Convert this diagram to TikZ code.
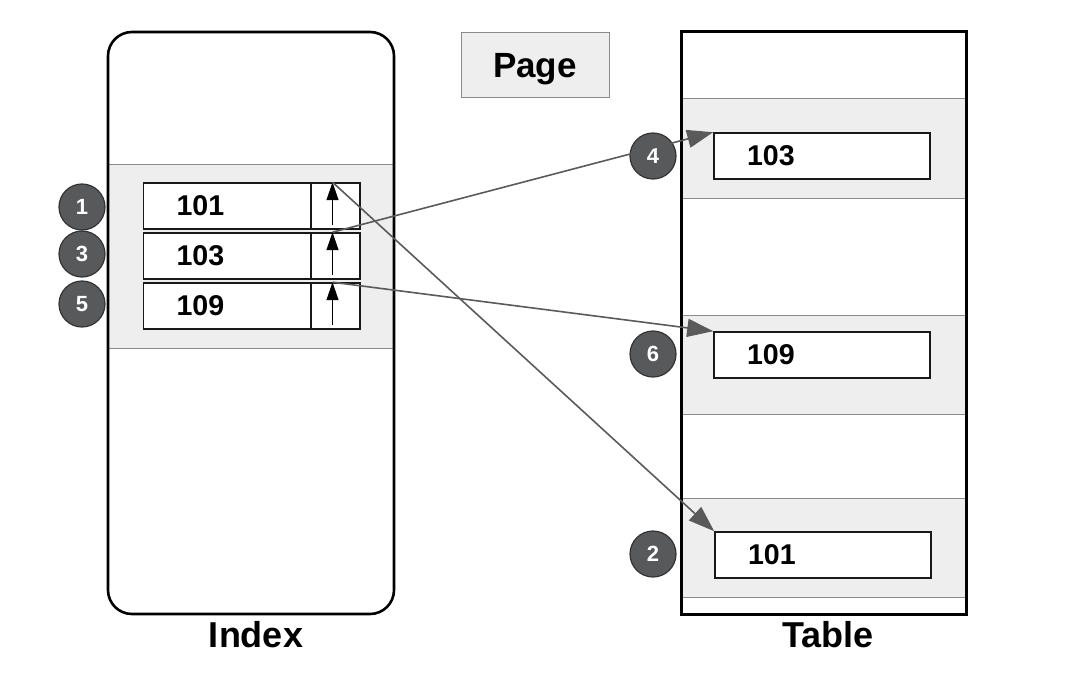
\documentclass[tikz,border=0pt]{standalone}
\usepackage{fontspec}
\setmainfont{Liberation Sans}
\usepackage{tikz}
\usetikzlibrary{arrows.meta}
\definecolor{band}{HTML}{EDEEED}
\definecolor{bandline}{HTML}{8A8B8A}
\definecolor{disc}{HTML}{58595B}
\definecolor{linkgray}{HTML}{5A5A5A}
\newcommand{\cellfont}{\fontsize{14.3}{16}\selectfont\bfseries}
\tikzset{
  bandbox/.style={draw=bandline, line width=0.5pt, fill=band, minimum width=#1, inner sep=0pt},
  keycell/.style={draw=black!90, line width=0.8pt, fill=white, minimum height=23pt,
    inner xsep=16.5pt, inner ysep=0pt, text width=#1, align=left, font=\cellfont},
  ptrcell/.style={draw=black!90, line width=0.8pt, fill=white, minimum width=24.5pt,
    minimum height=23pt, inner sep=0pt},
  stepdisc/.style={circle, draw=black!80, line width=0.6pt, fill=disc, minimum size=23pt,
    inner sep=0pt, text=white, font=\fontsize{11}{12}\selectfont\bfseries},
  ptr/.style={-{Triangle[length=9pt,width=6pt]}, black, line width=0.6pt, shorten <=2.5pt},
  link/.style={-{Triangle[length=13pt,width=9pt]}, linkgray, line width=0.8pt},
  caption/.style={font=\fontsize{18}{20}\selectfont\bfseries}
}

\begin{document}
\begin{tikzpicture}[x=0.5pt,y=-0.5pt]
  \useasboundingbox (0,0) rectangle (1079,679);

  \node [bandbox=143pt, minimum height=91.5pt] (iband) at (251,256.5) {};
  \node [draw, line width=1.3pt, rounded corners=12pt, minimum width=143pt,
    minimum height=291pt] (index) at (251,323) {};

  \node [keycell=51pt] (k101) at (227.5,206) {101};
  \node [keycell=51pt] (k103) at (227.5,256) {103};
  \node [keycell=51pt] (k109) at (227.5,306) {109};
  \node [ptrcell] (p101) at (335.5,206) {};
  \node [ptrcell] (p103) at (335.5,256) {};
  \node [ptrcell] (p109) at (335.5,306) {};
  \draw [ptr] ([xshift=-1.5pt]p101.south) to ([xshift=-1.5pt]p101.north);
  \draw [ptr] ([xshift=-1.5pt]p103.south) to ([xshift=-1.5pt]p103.north);
  \draw [ptr] ([xshift=-1.5pt]p109.south) to ([xshift=-1.5pt]p109.north);

  \node [stepdisc] (s1) at (82,207) {1};
  \node [stepdisc] (s3) at (82,254) {3};
  \node [stepdisc] (s5) at (82,304) {5};

  \node [draw=bandline, line width=0.5pt, fill=band, minimum width=74pt, minimum height=32.5pt,
    text depth=0pt, font=\fontsize{17.5}{20}\selectfont\bfseries] (page) at (535,65.5) {Page};

  \node [bandbox=142.5pt, minimum height=49.5pt] (tband1) at (823.5,148.5) {};
  \node [bandbox=142.5pt, minimum height=49.5pt] (tband2) at (823.5,364.5) {};
  \node [bandbox=142.5pt, minimum height=49.5pt] (tband3) at (823.5,547.5) {};
  \node [draw, line width=1.5pt, minimum width=142.5pt, minimum height=291pt] (table) at (823.5,323) {};

  \node [keycell=75pt] (t103) at (822,156) {103};
  \node [keycell=75pt] (t109) at (822,355) {109};
  \node [keycell=75pt] (t101) at (823,555) {101};

  \node [stepdisc] (s4) at (653,156) {4};
  \node [stepdisc] (s6) at (653,354) {6};
  \node [stepdisc] (s2) at (653,554) {2};

  \draw [link] ([xshift=-1.5pt]p101.north) to (t101.north west);
  \draw [link] ([xshift=-1.5pt]p103.north) to (t103.north west);
  \draw [link] ([xshift=-1.5pt]p109.north) to (t109.north west);

  \node [caption] (ilabel) at (256,635) {Index};
  \node [caption] (tlabel) at (828,635) {Table};
\end{tikzpicture}
\end{document}
